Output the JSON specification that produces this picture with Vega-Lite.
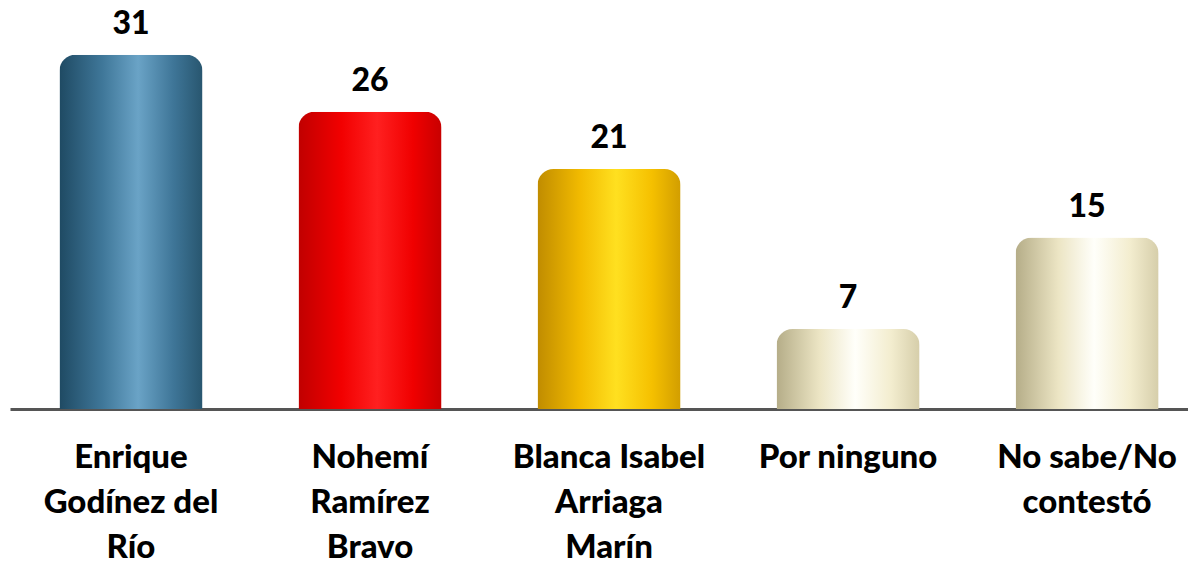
{
  "$schema": "https://vega.github.io/schema/vega-lite/v6.json",
  "width": 1178,
  "height": 400,
  "autosize": {"type": "none"},
  "padding": {"left": 10, "top": 9, "right": 0, "bottom": 154},
  "background": "white",
  "config": {"view": {"stroke": null}, "font": "Lato"},
  "data": {
    "values": [
      {"candidato": "Enrique|Godínez del|Río", "grupo": "azul", "valor": 31},
      {"candidato": "Nohemí|Ramírez|Bravo", "grupo": "rojo", "valor": 26},
      {"candidato": "Blanca Isabel|Arriaga|Marín", "grupo": "oro", "valor": 21},
      {"candidato": "Por ninguno", "grupo": "crema", "valor": 7},
      {"candidato": "No sabe/No|contestó", "grupo": "crema", "valor": 15}
    ]
  },
  "encoding": {
    "x": {
      "field": "candidato",
      "type": "nominal",
      "sort": null,
      "scale": {
        "domain": ["Enrique|Godínez del|Río", "Nohemí|Ramírez|Bravo", "Blanca Isabel|Arriaga|Marín", "Por ninguno", "No sabe/No|contestó"],
        "paddingInner": 0.4017,
        "paddingOuter": 0.165,
        "align": 0.627
      },
      "axis": {
        "title": null,
        "labelAngle": 0,
        "ticks": false,
        "grid": false,
        "domainColor": "#555555",
        "domainWidth": 3,
        "labelFont": "Lato",
        "labelFontWeight": 900,
        "labelFontSize": 33,
        "labelColor": "black",
        "labelLineHeight": 45,
        "labelPadding": 32,
        "labelLimit": 0,
        "labelExpr": "split(datum.value, '|')"
      }
    },
    "y": {
      "field": "valor",
      "type": "quantitative",
      "scale": {"domain": [0, 35]},
      "axis": null
    }
  },
  "layer": [
    {
      "transform": [{"filter": "datum.grupo === 'azul'"}],
      "mark": {
        "type": "bar",
        "cornerRadiusTopLeft": 16,
        "cornerRadiusTopRight": 16,
        "color": {
          "gradient": "linear", "x1": 0, "y1": 0, "x2": 1, "y2": 0,
          "stops": [
            {"offset": 0, "color": "#1f4a63"},
            {"offset": 0.3, "color": "#3f7799"},
            {"offset": 0.55, "color": "#6aa3c6"},
            {"offset": 0.8, "color": "#3e7597"},
            {"offset": 1, "color": "#28566f"}
          ]
        }
      }
    },
    {
      "transform": [{"filter": "datum.grupo === 'rojo'"}],
      "mark": {
        "type": "bar",
        "cornerRadiusTopLeft": 16,
        "cornerRadiusTopRight": 16,
        "color": {
          "gradient": "linear", "x1": 0, "y1": 0, "x2": 1, "y2": 0,
          "stops": [
            {"offset": 0, "color": "#c00000"},
            {"offset": 0.3, "color": "#f20000"},
            {"offset": 0.55, "color": "#ff2020"},
            {"offset": 0.8, "color": "#f00000"},
            {"offset": 1, "color": "#c80000"}
          ]
        }
      }
    },
    {
      "transform": [{"filter": "datum.grupo === 'oro'"}],
      "mark": {
        "type": "bar",
        "cornerRadiusTopLeft": 16,
        "cornerRadiusTopRight": 16,
        "color": {
          "gradient": "linear", "x1": 0, "y1": 0, "x2": 1, "y2": 0,
          "stops": [
            {"offset": 0, "color": "#c08c00"},
            {"offset": 0.3, "color": "#f2bb00"},
            {"offset": 0.55, "color": "#ffe020"},
            {"offset": 0.8, "color": "#f5c000"},
            {"offset": 1, "color": "#d29e00"}
          ]
        }
      }
    },
    {
      "transform": [{"filter": "datum.grupo === 'crema'"}],
      "mark": {
        "type": "bar",
        "cornerRadiusTopLeft": 16,
        "cornerRadiusTopRight": 16,
        "color": {
          "gradient": "linear", "x1": 0, "y1": 0, "x2": 1, "y2": 0,
          "stops": [
            {"offset": 0, "color": "#b5ad88"},
            {"offset": 0.3, "color": "#ece5c4"},
            {"offset": 0.55, "color": "#fffffa"},
            {"offset": 0.8, "color": "#f3edcf"},
            {"offset": 1, "color": "#d6ceaa"}
          ]
        }
      }
    },
    {
      "mark": {
        "type": "text",
        "baseline": "bottom",
        "dy": -14,
        "font": "Lato",
        "fontSize": 32,
        "fontWeight": 900,
        "color": "black"
      },
      "encoding": {"text": {"field": "valor", "type": "quantitative"}}
    }
  ]
}
